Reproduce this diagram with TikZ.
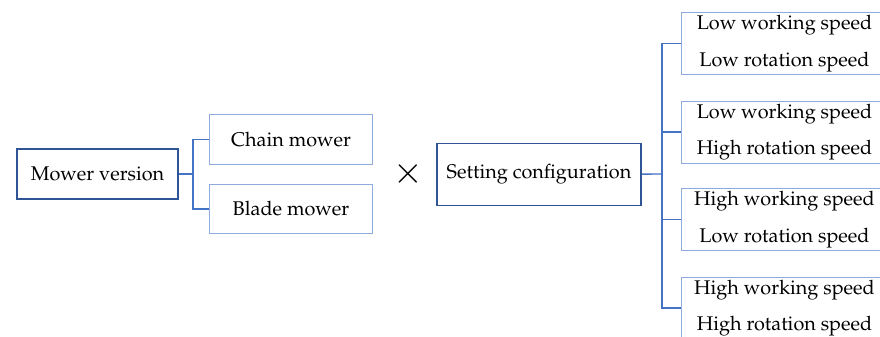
\documentclass[tikz,border=0pt]{standalone}
\usepackage[T1]{fontenc}
\usepackage{mathpazo}
\definecolor{darkblue}{HTML}{2F5597}
\definecolor{lightblue}{HTML}{8FAADC}
\definecolor{linkblue}{HTML}{4472C4}
\begin{document}
\begin{tikzpicture}[x=0.025cm,y=-0.025cm,
  main/.style={draw=darkblue,line width=1.4pt,minimum height=1.25cm,inner sep=0pt},
  leaf/.style={draw=lightblue,line width=0.7pt,minimum width=4.05cm,minimum height=1.24cm,inner sep=0pt},
  combo/.style={draw=lightblue,line width=0.7pt,minimum width=5.125cm,minimum height=1.55cm,inner sep=0pt,align=center},
  link/.style={draw=linkblue,line width=1pt},
  font=\fontsize{14.1pt}{25.8pt}\selectfont]
\useasboundingbox (0,0) rectangle (880,336);
\clip (0,0) rectangle (880,336);
\node[main,minimum width=4.025cm] (mower) at (97.5,174) {Mower version};
\node[leaf] (chain) at (291,139.5) {Chain mower};
\node[leaf] (blade) at (291,209) {Blade mower};
\node[font=\fontsize{26pt}{26pt}\selectfont] (times) at (408,174) {$\times$};
\node[main,minimum width=5.1cm,minimum height=1.55cm] (setting) at (539,174.5) {Setting configuration};
\node[combo] (r1) at (784.5,43.5) {Low working speed\\Low rotation speed};
\node[combo] (r2) at (784.5,132) {Low working speed\\High rotation speed};
\node[combo] (r3) at (784.5,219.5) {High working speed\\Low rotation speed};
\node[combo] (r4) at (784.5,308) {High working speed\\High rotation speed};
\coordinate (jm) at (193,174);
\coordinate (js) at (662,174);
\draw[link] (mower) -- (jm);
\draw[link] (jm) |- (chain);
\draw[link] (jm) |- (blade);
\draw[link] (setting) -- (js);
\draw[link] (js) |- (r1);
\draw[link] (js) |- (r2);
\draw[link] (js) |- (r3);
\draw[link] (js) |- (r4);
\end{tikzpicture}
\end{document}
